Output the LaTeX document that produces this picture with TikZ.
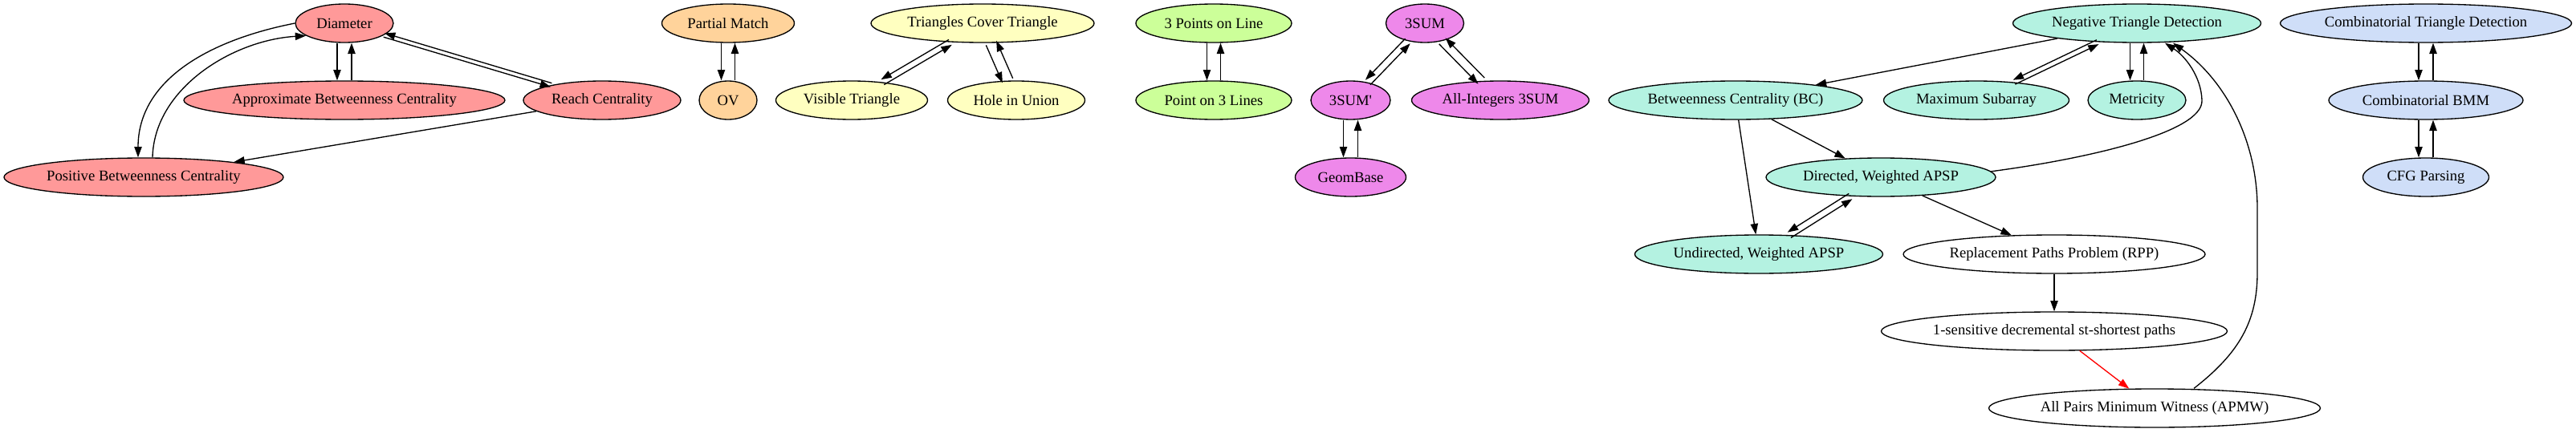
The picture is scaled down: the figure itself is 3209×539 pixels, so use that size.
\documentclass[tikz,border=0pt]{standalone}
\usepackage{fontspec}
\setmainfont{Liberation Serif}
\usetikzlibrary{arrows.meta,shapes.geometric}
\definecolor{cred}{HTML}{FF9999}
\definecolor{cpeach}{HTML}{FFD39B}
\definecolor{cyel}{HTML}{FFFFC0}
\definecolor{cgreen}{HTML}{CCFF99}
\definecolor{cviol}{HTML}{EE88EA}
\definecolor{cteal}{HTML}{B4F2E1}
\definecolor{cblue}{HTML}{CFDEF8}
\begin{document}
\begin{tikzpicture}[x=0.75pt,y=-0.75pt,
  nd/.style={ellipse,draw=black,line width=1pt,minimum height=36pt,inner sep=0pt,
    font=\fontsize{14}{16}\selectfont,minimum width=#1},
  edge/.style={line width=1pt,-{Triangle[length=10pt,width=7pt]}},
  sh/.style={transform canvas={shift={#1}}}]
\useasboundingbox[fill=white] (0,0) rectangle (3209,539);
% red group
\node[nd=91.5pt,fill=cred] (dia) at (429,29) {Diameter};
\node[nd=300pt,fill=cred] (abc) at (429,125) {Approximate Betweenness Centrality};
\node[nd=147pt,fill=cred] (reach) at (750,125) {Reach Centrality};
\node[nd=261pt,fill=cred] (pbc) at (179,221) {Positive Betweenness Centrality};
% orange
\node[nd=123.75pt,fill=cpeach] (pm) at (907,29) {Partial Match};
\node[nd=54pt,fill=cpeach] (ov) at (907,125) {OV};
% yellow
\node[nd=208.5pt,fill=cyel] (tct) at (1224,29) {Triangles Cover Triangle};
\node[nd=141.75pt,fill=cyel] (vis) at (1061,125) {Visible Triangle};
\node[nd=128.25pt,fill=cyel] (hole) at (1266,125) {Hole in Union};
% green
\node[nd=145.5pt,fill=cgreen] (p3l) at (1512,29) {3 Points on Line};
\node[nd=145.5pt,fill=cgreen] (pol3) at (1512,125) {Point on 3 Lines};
% violet
\node[nd=72.75pt,fill=cviol] (s3) at (1775,29) {3SUM};
\node[nd=74.25pt,fill=cviol] (s3p) at (1682.5,125) {3SUM\textquotesingle};
\node[nd=165.75pt,fill=cviol] (s3int) at (1869,125) {All-Integers 3SUM};
\node[nd=103.5pt,fill=cviol] (geom) at (1682.5,221) {GeomBase};
% teal
\node[nd=231.75pt,fill=cteal] (ntd) at (2662,29) {Negative Triangle Detection};
\node[nd=237pt,fill=cteal] (bc) at (2162,125) {Betweenness Centrality (BC)};
\node[nd=173.25pt,fill=cteal] (maxs) at (2462,125) {Maximum Subarray};
\node[nd=91.5pt,fill=cteal] (metr) at (2662,125) {Metricity};
\node[nd=214.5pt,fill=cteal] (dw) at (2343,221) {Directed, Weighted APSP};
\node[nd=231.75pt,fill=cteal] (uw) at (2191,317) {Undirected, Weighted APSP};
\node[nd=282pt,fill=white] (rpp) at (2559,317) {Replacement Paths Problem (RPP)};
\node[nd=323.25pt,fill=white] (sens) at (2559,413) {1-sensitive decremental st-shortest paths};
\node[nd=309.75pt,fill=white] (apmw) at (2684,509) {All Pairs Minimum Witness (APMW)};
% blue
\node[nd=272.25pt,fill=cblue] (ctd) at (3022,29) {Combinatorial Triangle Detection};
\node[nd=181.5pt,fill=cblue] (cbmm) at (3022,125) {Combinatorial BMM};
\node[nd=117.75pt,fill=cblue] (cfg) at (3022,221) {CFG Parsing};
% red edges
\draw[edge,sh={(-9,0)}] (dia) -- (abc);
\draw[edge,sh={(9,0)}] (abc) -- (dia);
\draw[edge,sh={(-0.7,2.4)}] (dia) -- (reach);
\draw[edge,sh={(0.7,-2.4)}] (reach) -- (dia);
\draw[edge] (dia.180) .. controls (260,50) and (172,100) .. ([shift={(-7,0)}]pbc.north);
\draw[edge] ([shift={(11,0)}]pbc.north) .. controls (192,110) and (290,50) .. (dia.198);
\draw[edge] (reach) -- (pbc);
% orange edges
\draw[edge,sh={(-8.5,0)}] (pm) -- (ov);
\draw[edge,sh={(8.5,0)}] (ov) -- (pm);
% yellow edges
\draw[edge,sh={(-1.9,-3.2)}] (tct) -- (vis);
\draw[edge,sh={(1.9,3.2)}] (vis) -- (tct);
\draw[edge,sh={(-6.4,2.8)}] (tct) -- (hole);
\draw[edge,sh={(6.4,-2.8)}] (hole) -- (tct);
% green edges
\draw[edge,sh={(-8.5,0)}] (p3l) -- (pol3);
\draw[edge,sh={(8.5,0)}] (pol3) -- (p3l);
% violet edges
\draw[edge,sh={(-3.1,-3)}] (s3) -- (s3p);
\draw[edge,sh={(3.1,3)}] (s3p) -- (s3);
\draw[edge,sh={(-3.9,3.8)}] (s3) -- (s3int);
\draw[edge,sh={(3.9,-3.8)}] (s3int) -- (s3);
\draw[edge,sh={(-9,0)}] (s3p) -- (geom);
\draw[edge,sh={(9,0)}] (geom) -- (s3p);
% teal edges
\draw[edge] (ntd) -- (bc);
\draw[edge,sh={(-1.3,-2.7)}] (ntd) -- (maxs);
\draw[edge,sh={(1.3,2.7)}] (maxs) -- (ntd);
\draw[edge,sh={(-8.5,0)}] (ntd) -- (metr);
\draw[edge,sh={(8.5,0)}] (metr) -- (ntd);
\draw[edge] (dw.3) .. controls (2600,198) and (2745,165) .. (2743,125) .. controls (2742,95) and (2722,70) .. ([shift={(35,0)}]ntd.south);
\draw[edge] ([shift={(49,0)}]apmw.north) .. controls (2790,440) and (2812,400) .. (2812,340) -- (2812,260) .. controls (2812,175) and (2772,100) .. ([shift={(45,0)}]ntd.south);
\draw[edge] (bc) -- (dw);
\draw[edge] (bc) -- (uw);
\draw[edge,sh={(-2.1,-3.4)}] (dw) -- (uw);
\draw[edge,sh={(2.1,3.4)}] (uw) -- (dw);
\draw[edge] (dw) -- (rpp);
\draw[edge] (rpp) -- (sens);
\draw[edge,red] (sens) -- (apmw);
% blue edges
\draw[edge,sh={(-9,0)}] (ctd) -- (cbmm);
\draw[edge,sh={(9,0)}] (cbmm) -- (ctd);
\draw[edge,sh={(-9,0)}] (cbmm) -- (cfg);
\draw[edge,sh={(9,0)}] (cfg) -- (cbmm);
\end{tikzpicture}
\end{document}
